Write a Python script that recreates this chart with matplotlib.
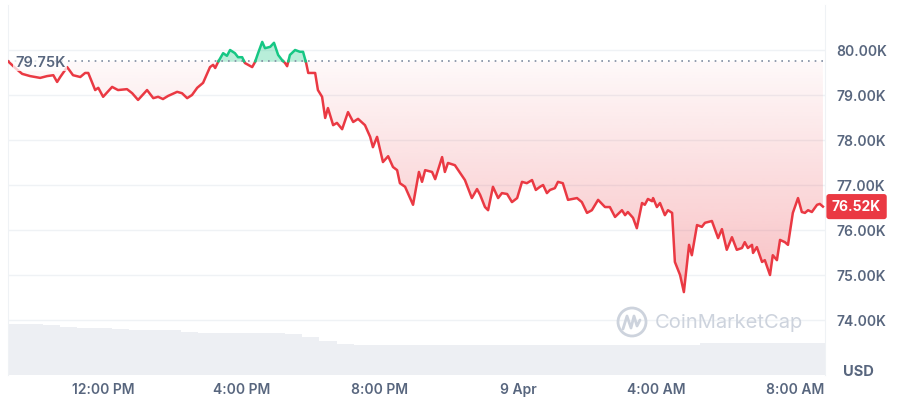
import numpy as np
import matplotlib
matplotlib.use('Agg')
import matplotlib.pyplot as plt
from matplotlib.patches import Polygon, Ellipse
from matplotlib.lines import Line2D

plt.rcParams['font.family'] = ['Inter', 'DejaVu Sans']

# hours since 8 Apr 00:00, price in thousand USD
hours = [9.25, 9.46, 9.66, 9.89, 10.18, 10.38, 10.56, 10.67, 10.76, 10.96,
         11.13, 11.34, 11.48, 11.57, 11.77, 11.86, 12.00, 12.26, 12.43, 12.69,
         12.84, 13.01, 13.27, 13.45, 13.59, 13.73, 13.88, 14.14, 14.28, 14.43,
         14.57, 14.72, 14.89, 15.09, 15.18, 15.24, 15.32, 15.47, 15.58, 15.67,
         15.81, 15.90, 16.02, 16.10, 16.31, 16.39, 16.48, 16.60, 16.68, 16.83,
         16.94, 17.06, 17.17, 17.26, 17.32, 17.40, 17.55, 17.69, 17.78, 17.87,
         17.93, 18.13, 18.21, 18.33, 18.42, 18.50, 18.65, 18.76, 18.91, 19.08,
         19.23, 19.37, 19.57, 19.72, 19.80, 19.92, 20.09, 20.24, 20.38, 20.50,
         20.58, 20.73, 20.96, 21.13, 21.22, 21.31, 21.51, 21.60, 21.80, 21.88,
         21.97, 22.17, 22.32, 22.46, 22.66, 22.81, 22.90, 23.04, 23.13, 23.27,
         23.42, 23.53, 23.68, 23.82, 23.97, 24.11, 24.25, 24.40, 24.51, 24.63,
         24.72, 24.83, 24.92, 25.06, 25.15, 25.29, 25.44, 25.70, 25.84, 25.99,
         26.13, 26.31, 26.51, 26.65, 26.80, 27.00, 27.09, 27.17, 27.32, 27.43,
         27.58, 27.66, 27.75, 27.87, 27.90, 28.01, 28.10, 28.24, 28.33, 28.45,
         28.53, 28.68, 28.79, 28.94, 29.02, 29.17, 29.31, 29.40, 29.60, 29.78,
         29.89, 30.03, 30.18, 30.32, 30.47, 30.55, 30.64, 30.76, 30.79, 30.90,
         31.05, 31.13, 31.28, 31.36, 31.48, 31.57, 31.71, 31.80, 31.94, 32.09,
         32.20, 32.29, 32.38, 32.49, 32.64, 32.72, 32.81]
price = [79.75, 79.60, 79.47, 79.42, 79.38, 79.42, 79.44, 79.29, 79.40, 79.62,
         79.44, 79.40, 79.49, 79.49, 79.11, 79.16, 78.96, 79.18, 79.11, 79.13,
         79.04, 78.89, 79.11, 78.93, 78.96, 78.91, 78.98, 79.07, 79.04, 78.93,
         79.00, 79.16, 79.27, 79.62, 79.67, 79.60, 79.73, 79.93, 79.87, 80.00,
         79.93, 79.84, 79.84, 79.71, 79.62, 79.73, 79.93, 80.18, 80.04, 80.07,
         80.16, 79.89, 79.78, 79.71, 79.64, 79.89, 80.00, 79.96, 79.96, 79.71,
         79.49, 79.49, 79.11, 78.96, 78.49, 78.71, 78.33, 78.38, 78.24, 78.62,
         78.40, 78.47, 78.33, 78.07, 77.84, 78.07, 77.51, 77.64, 77.40, 77.33,
         77.04, 76.96, 76.56, 77.29, 77.07, 77.33, 77.29, 77.13, 77.62, 77.29,
         77.49, 77.44, 77.27, 77.11, 76.71, 76.91, 76.78, 76.51, 76.44, 76.96,
         76.71, 76.82, 76.80, 76.62, 76.71, 77.07, 77.04, 77.11, 76.89, 76.96,
         77.00, 76.82, 76.89, 76.93, 77.07, 77.04, 76.67, 76.71, 76.62, 76.38,
         76.44, 76.67, 76.51, 76.51, 76.29, 76.44, 76.33, 76.40, 76.27, 76.04,
         76.60, 76.56, 76.69, 76.64, 76.71, 76.51, 76.60, 76.33, 76.44, 76.38,
         75.29, 75.00, 74.62, 75.67, 75.44, 76.11, 76.07, 76.16, 76.20, 75.82,
         76.02, 75.56, 75.84, 75.56, 75.60, 75.73, 75.60, 75.67, 75.49, 75.62,
         75.29, 75.33, 75.00, 75.44, 75.33, 75.78, 75.73, 75.67, 76.38, 76.71,
         76.40, 76.38, 76.44, 76.40, 76.56, 76.58, 76.52]

base_price = 79.75
last_price = 76.52

# 24h volume, half-hour samples (relative units)
volume = [51, 51, 50, 48, 47, 47, 46, 45, 45, 45, 43, 42, 42, 42, 42, 42,
          41, 38, 34, 31, 30, 30, 30, 30, 30, 30, 30, 30, 30, 30, 30, 30,
          30, 30, 30, 30, 30, 30, 30, 30, 32, 32, 32, 32, 32, 32, 32, 32]
vol_hours = np.arange(9.25, 33.0, 0.5)[:len(volume)]

tick_hours = [12, 16, 20, 24, 28, 32]
tick_labels = ['12:00 PM', '4:00 PM', '8:00 PM', '9 Apr', '4:00 AM', '8:00 AM']
price_ticks = [74, 75, 76, 77, 78, 79, 80]

RED = '#ea3943'
GREEN = '#16c784'
TXT = '#58667e'

fig = plt.figure(figsize=(9, 4), dpi=100)
pos = [8 / 900, 25 / 400, 817 / 900, 370 / 400]

# volume underneath
axv = fig.add_axes(pos)
axv.bar(vol_hours, volume, width=0.5, align='edge', color='#edeff3', lw=0)
axv.set_xlim(9.25, 32.87)
axv.set_ylim(0, 370)
axv.axis('off')

ax = fig.add_axes(pos)
ax.patch.set_alpha(0)

# insert crossing points so line colour can switch at the baseline
t = np.array(hours)
p = np.array(price)
tt = [t[0]]
pp = [p[0]]
for i in range(1, len(t)):
    a = p[i - 1] - base_price
    b = p[i] - base_price
    if a * b < 0:
        f = a / (a - b)
        tt.append(t[i - 1] + f * (t[i] - t[i - 1]))
        pp.append(base_price)
    tt.append(t[i])
    pp.append(p[i])
tt = np.array(tt)
pp = np.array(pp)

# green area above baseline
ax.fill_between(tt, base_price, np.maximum(pp, base_price), color=GREEN,
                alpha=0.3, lw=0, zorder=2)

# red gradient area below baseline
low = np.minimum(pp, base_price)
verts = list(zip(tt, low)) + [(tt[-1], base_price), (tt[0], base_price)]
poly = Polygon(verts, closed=True, transform=ax.transData, fc='none', ec='none')
ax.add_patch(poly)
n = 256
grad = np.zeros((n, 1, 4))
grad[:, 0, 0] = 0xea / 255
grad[:, 0, 1] = 0x39 / 255
grad[:, 0, 2] = 0x43 / 255
grad[:, 0, 3] = np.linspace(0.32, 0.03, n)
im = ax.imshow(grad, extent=(tt[0], tt[-1], p.min(), base_price), origin='lower',
               aspect='auto', zorder=2, interpolation='bilinear')
im.set_clip_path(poly)

# line
ax.plot(tt, np.where(pp <= base_price, pp, np.nan), color=RED, lw=1.8,
        zorder=4, solid_joinstyle='round')
ax.plot(tt, np.where(pp >= base_price, pp, np.nan), color=GREEN, lw=1.8,
        zorder=4, solid_joinstyle='round')

# baseline
ax.axhline(base_price, color='#7f8ba0', lw=1.2, ls=(0, (1, 3)), zorder=3)
ax.annotate(f'{base_price:.2f}K', xy=(t[0], base_price), xytext=(5, -1),
            textcoords='offset points', ha='left', va='center',
            fontsize=10.5, fontweight='semibold', color=TXT, zorder=5,
            bbox=dict(boxstyle='square,pad=0.1', fc='white', ec='none', alpha=0.75))

# last price tag
ax.annotate(f'{last_price:.2f}K', xy=(1.0, last_price),
            xycoords=('axes fraction', 'data'), xytext=(5, 0),
            textcoords='offset points', ha='left', va='center',
            fontsize=10, fontweight='bold', color='white', zorder=6,
            annotation_clip=False,
            bbox=dict(boxstyle='round,pad=0.4,rounding_size=0.2', fc=RED, ec='none'))

ax.set_xlim(9.25, 32.87)
ax.set_ylim(72.778, 81.0)

ax.set_xticks(tick_hours)
ax.set_xticklabels(tick_labels)
ax.set_yticks(price_ticks)
ax.set_yticklabels([f'{v:.2f}K' for v in price_ticks])
ax.yaxis.tick_right()
ax.tick_params(axis='both', length=0, labelsize=10, labelcolor=TXT)
ax.tick_params(axis='x', pad=6)
ax.tick_params(axis='y', pad=8)
for lab in ax.get_xticklabels() + ax.get_yticklabels():
    lab.set_fontweight('semibold')

ax.grid(axis='y', color='#eff2f5', lw=1)
ax.set_axisbelow(True)
for s in ['top', 'bottom']:
    ax.spines[s].set_visible(False)
for s in ['left', 'right']:
    ax.spines[s].set_color('#eff2f5')

fig.text(858 / 900, 1 - 372 / 400, 'USD', ha='center', va='center',
         fontsize=10.5, fontweight='bold', color=TXT)

# watermark
wm = '#cdd3dd'
fig.text(655 / 900, 1 - 323 / 400, 'CoinMarketCap', ha='left', va='center',
         fontsize=14.5, color=wm)
fig.add_artist(Ellipse((632 / 900, 1 - 322 / 400), 28 / 900, 28 / 400,
                       fc='none', ec=wm, lw=2))
fig.add_artist(Line2D([623 / 900, 627 / 900, 631 / 900, 634 / 900, 637 / 900, 640 / 900],
                      [1 - 329 / 400, 1 - 316 / 400, 1 - 328 / 400, 1 - 316 / 400,
                       1 - 326 / 400, 1 - 320 / 400],
                      color=wm, lw=2, solid_capstyle='round'))

fig.savefig('out.png', dpi=100)
